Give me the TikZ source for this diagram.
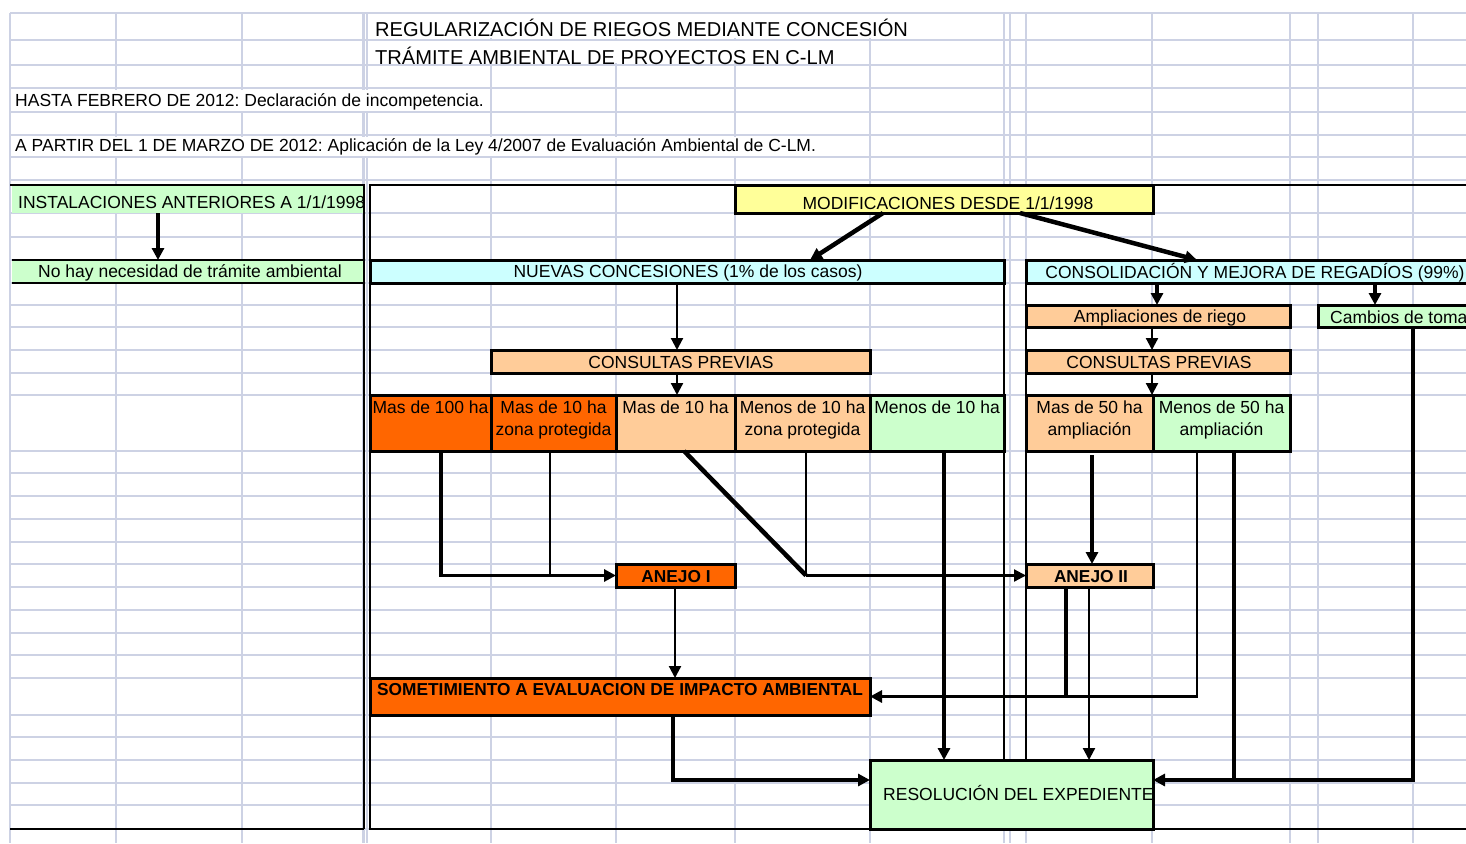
\documentclass[tikz,border=0pt]{standalone}
\usepackage{fontspec}
\setmainfont{Liberation Sans}
\usetikzlibrary{arrows.meta}
\definecolor{gridc}{HTML}{CDD2E4}
\definecolor{orangeb}{HTML}{FF6600}
\definecolor{peach}{HTML}{FFCC99}
\definecolor{lgreen}{HTML}{CCFFCC}
\definecolor{lcyan}{HTML}{CCFFFF}
\definecolor{lyellow}{HTML}{FFFF99}
\newcommand{\bx}[7]{\node[#6, minimum width={#4-#2}, minimum height={#5-#3}] (#1) at (#2,#3) {#7};}
\frenchspacing
\begin{document}
\begin{tikzpicture}[x=1pt,y=-1pt,
  txt/.style={font=\fontsize{17.5}{22}\selectfont, inner sep=0pt, text=black, yshift=-1.5pt},
  ttl/.style={font=\fontsize{20.1}{24}\selectfont, inner sep=0pt, text=black, yshift=-1pt},
  bld/.style={font=\fontsize{17.3}{22}\selectfont\bfseries, inner sep=0pt, text=black, yshift=-1.5pt},
  box/.style={draw=black, line width=3pt, inner sep=0pt, outer sep=0pt, anchor=north west},
  flat/.style={inner sep=0pt, outer sep=0pt, anchor=north west},
  gridl/.style={draw=gridc, line width=2.8pt},
  frame/.style={draw=black, line width=2.8pt},
  arr/.style={-{Triangle[length=12pt,width=12pt]}},
  thk/.style={draw=black, line width=3.5pt},
  thk4/.style={draw=black, line width=4.5pt},
  thn/.style={draw=black, line width=2.2pt}]

\useasboundingbox (0,0) rectangle (1466,843);
\fill[white] (0,0) rectangle (1466,843);

% grid
\foreach \x in {10,116,242,363.5,367,491,616,735,870,1004,1010,1026,1152,1290,1318,1413}
  \draw[gridl] (\x,13) -- (\x,843);
\foreach \y in {13,40,65,88,112,135,157,180,213,237,260,283,305,327,350,373,395,451,473,496,519,542,564,587,610,633,655,678,715,737,760,783,805,829}
  \draw[gridl] (10,\y) -- (1466,\y);

% overflow text cells hide grid
\fill[white] (368.5,14.5) rectangle (1002.5,38.5);
\fill[white] (368.5,41.5) rectangle (868.5,63.5);
\fill[white] (11.5,89.5) rectangle (489.5,110.5);
\fill[white] (11.5,136.5) rectangle (868.5,155.5);

% texts at top
\node[ttl, anchor=west] (title1) at (375,27) {REGULARIZACIÓN DE RIEGOS MEDIANTE CONCESIÓN};
\node[ttl, anchor=west] (title2) at (375,55) {TRÁMITE AMBIENTAL DE PROYECTOS EN C-LM};
\node[txt, anchor=west] (hasta) at (15,100) {HASTA FEBRERO DE 2012: Declaración de incompetencia.};
\node[txt, anchor=west] (partir) at (15,145) {A PARTIR DEL 1 DE MARZO DE 2012: Aplicación de la Ley 4/2007 de Evaluación Ambiental de C-LM.};

% boxes
\bx{inst}{12}{185}{364}{213}{flat, fill=lgreen}{}
\bx{nohay}{12}{260}{364}{283}{flat, fill=lgreen}{}
\draw[frame] (nohay.north west) -- (nohay.north east);
\draw[frame] (nohay.south west) -- (nohay.south east);

% frames
\draw[frame] (10,185) -- (365.4,185);
\draw[frame] (364,185) -- (364,829);
\draw[frame] (10,829) -- (364,829);
\draw[frame] (1470,185) -- (370,185) -- (370,829) -- (1470,829);

\bx{modif}{735}{185}{1153}{213}{box, fill=lyellow}{}
\bx{nuevas}{370}{260}{1004}{283}{box, fill=lcyan}{}
\bx{consol}{1026}{260}{1470}{283}{box, fill=lcyan}{}
\bx{ampl}{1026}{305}{1290}{327}{box, fill=peach}{}
\bx{cambios}{1318}{305}{1470}{327}{box, fill=lgreen}{}
\bx{consA}{491}{350}{870}{373}{box, fill=peach}{}
\bx{consB}{1026}{350}{1290}{373}{box, fill=peach}{}
\bx{c1}{370}{395}{491}{451}{box, fill=orangeb}{}
\bx{c2}{491}{395}{616}{451}{box, fill=orangeb}{}
\bx{c3}{616}{395}{735}{451}{box, fill=peach}{}
\bx{c4}{735}{395}{870}{451}{box, fill=peach}{}
\bx{c5}{870}{395}{1004}{451}{box, fill=lgreen}{}
\bx{c6}{1026}{395}{1153}{451}{box, fill=peach}{}
\bx{c7}{1153}{395}{1290}{451}{box, fill=lgreen}{}
\bx{anejoI}{616}{564}{735}{587}{box, fill=orangeb}{}
\bx{anejoII}{1026}{564}{1153}{587}{box, fill=peach}{}
\bx{somet}{370}{678}{870}{715}{box, fill=orangeb}{}
\bx{resol}{870}{760}{1153}{829}{box, fill=lgreen}{}

\draw[frame] (nuevas.south east) -- (nuevas.south east |- resol.north);
\draw[frame] (consol.south west) -- (consol.south west |- resol.north);

% helper coordinates
\coordinate (c1s) at ([xshift=71pt]c1.south west);
\coordinate (c2s) at ([xshift=59pt]c2.south west);
\coordinate (c3s) at ([xshift=68pt]c3.south west);
\coordinate (c4s) at ([xshift=71pt]c4.south west);
\coordinate (c5s) at ([xshift=74pt]c5.south west);
\coordinate (c6s) at ([xshift=66pt]c6.south west);
\coordinate (c7s) at ([xshift=44pt]c7.south west);
\coordinate (c7t) at ([xshift=81pt]c7.south west);
\coordinate (a2s) at ([xshift=40pt]anejoII.south west);
\coordinate (a2t) at ([xshift=63pt]anejoII.south west);
\coordinate (cas) at ([xshift=95pt]cambios.south west);
\coordinate (ss) at ([xshift=303pt]somet.south west);
\coordinate (rE) at ([yshift=14.5pt]resol.east);
\coordinate (rW) at ([yshift=14.5pt]resol.west);
\coordinate (j2) at (c4s |- anejoII.west);

% connectors
\draw[thk, arr] ([xshift=146pt]inst.south west) -- ([xshift=146pt]nohay.north west);
\draw[thk4, arr] ([xshift=148pt]modif.south west) -- ([xshift=440pt]nuevas.north west);
\draw[thk4, arr] ([xshift=285pt]modif.south west) -- ([xshift=171pt]consol.north west);
\draw[thn, arr] ([xshift=307pt]nuevas.south west) -- ([xshift=186pt]consA.north west);
\draw[thn, arr] ([xshift=186pt]consA.south west) -- ([xshift=61pt]c3.north west);
\draw[thk, arr] ([xshift=131pt]consol.south west) -- ([xshift=131pt]ampl.north west);
\draw[thk, arr] ([xshift=349pt]consol.south west) -- ([xshift=57pt]cambios.north west);
\draw[thn, arr] ([xshift=126pt]ampl.south west) -- ([xshift=126pt]consB.north west);
\draw[thn, arr] ([xshift=126pt]consB.south west) -- ([xshift=126pt]c6.north west);
\draw[thk, arr] (c1s) |- (anejoI.west);
\draw[thn] (c2s) -- (c2s |- anejoI.west);
\draw[thk4] (c3s) -- (j2);
\draw[thn] (c4s) -- (j2);
\draw[thn, arr] (j2) -- (anejoII.west);
\draw[thk, arr] (c5s) -- (c5s |- resol.north);
\draw[thk, arr] ([yshift=-4pt]c6s) -- (c6s |- anejoII.north);
\draw[thk, arr] (a2s) |- (somet.east);
\draw[thn] (c7s) |- (a2s |- somet.east);
\draw[thn, arr] (a2t) -- (a2t |- resol.north);
\draw[thk, arr] (c7t) |- (rE);
\draw[thk] (cas) |- (c7t |- rE);
\draw[thn, arr] ([xshift=59pt]anejoI.south west) -- ([xshift=305pt]somet.north west);
\draw[thk, arr] (ss) |- (rW);

% box texts
\node[txt, anchor=west] (tinst) at (18,201) {INSTALACIONES ANTERIORES A 1/1/1998};
\node[txt] (tnohay) at (190,271) {No hay necesidad de trámite ambiental};
\node[txt] (tmodif) at (948,202) {MODIFICACIONES DESDE 1/1/1998};
\node[txt] (tnuevas) at (688,271) {NUEVAS CONCESIONES (1\% de los casos)};
\node[txt] (tconsol) at (1255,271) {CONSOLIDACIÓN Y MEJORA DE REGADÍOS (99\%)};
\node[txt] (tampl) at (1160,316) {Ampliaciones de riego};
\node[txt, anchor=west] (tcambios) at (1330,316) {Cambios de toma};
\node[txt] (tconsA) at (681,361) {CONSULTAS PREVIAS};
\node[txt] (tconsB) at (1159,361) {CONSULTAS PREVIAS};
\node[txt, align=center, anchor=north] (tc1) at ([yshift=-4.5pt]c1.north) {Mas de 100 ha};
\node[txt, align=center, anchor=north] (tc2) at ([yshift=-4.5pt]c2.north) {Mas de 10 ha\\zona protegida};
\node[txt, align=center, anchor=north] (tc3) at ([yshift=-4.5pt]c3.north) {Mas de 10 ha};
\node[txt, align=center, anchor=north] (tc4) at ([yshift=-4.5pt]c4.north) {Menos de 10 ha\\zona protegida};
\node[txt, align=center, anchor=north] (tc5) at ([yshift=-4.5pt]c5.north) {Menos de 10 ha};
\node[txt, align=center, anchor=north] (tc6) at ([yshift=-4.5pt]c6.north) {Mas de 50 ha\\ampliación};
\node[txt, align=center, anchor=north] (tc7) at ([yshift=-4.5pt]c7.north) {Menos de 50 ha\\ampliación};
\node[bld] (tanejoI) at (676,575) {ANEJO I};
\node[bld] (tanejoII) at (1091,575) {ANEJO II};
\node[bld, anchor=west] (tsomet) at (377,688) {SOMETIMIENTO A EVALUACION DE IMPACTO AMBIENTAL};
\node[txt, anchor=west] (tresol) at (883,791) {RESOLUCIÓN DEL EXPEDIENTE};
\end{tikzpicture}
\end{document}
